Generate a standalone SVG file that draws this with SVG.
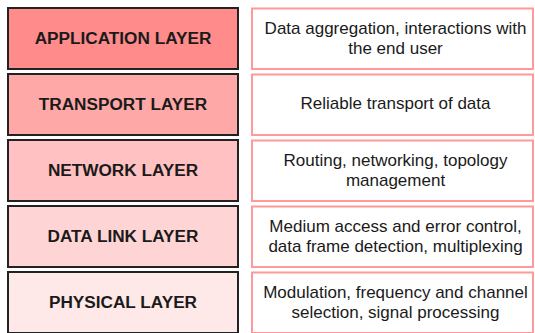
<svg xmlns="http://www.w3.org/2000/svg" width="535" height="333" viewBox="0 0 535 333">
<style>
.layer{stroke:#222;stroke-width:2}
.desc{fill:#fff;stroke:#ff9a9a;stroke-width:2}
.lt{font-family:"Liberation Sans",Arial,sans-serif;font-weight:bold;font-size:17.2px;fill:#1a1a1a;text-anchor:middle}
.dt{font-family:"Liberation Sans",Arial,sans-serif;font-size:17px;fill:#1a1a1a;text-anchor:middle}
</style>
<rect width="535" height="333" fill="#fff"/>
<g id="application">
<rect class="layer" x="8" y="8" width="230" height="61" fill="#ff8b8b"/>
<text class="lt" x="123" y="43.5">APPLICATION LAYER</text>
</g>
<g id="application-desc">
<rect class="desc" x="252" y="8.5" width="281" height="60.5"/>
<text class="dt" x="395.5" y="34">Data aggregation, interactions with</text>
<text class="dt" x="395.5" y="54">the end user</text>
</g>
<g id="transport">
<rect class="layer" x="8" y="74" width="230" height="61" fill="#ffa8a8"/>
<text class="lt" x="123" y="109.5">TRANSPORT LAYER</text>
</g>
<g id="transport-desc">
<rect class="desc" x="252" y="74.5" width="281" height="60.5"/>
<text class="dt" x="395.5" y="108.5">Reliable transport of data</text>
</g>
<g id="network">
<rect class="layer" x="8" y="140" width="230" height="61" fill="#ffc1c1"/>
<text class="lt" x="123" y="175.5">NETWORK LAYER</text>
</g>
<g id="network-desc">
<rect class="desc" x="252" y="140.5" width="281" height="60.5"/>
<text class="dt" x="395.5" y="165.5">Routing, networking, topology</text>
<text class="dt" x="395.5" y="185.5">management</text>
</g>
<g id="datalink">
<rect class="layer" x="8" y="206" width="230" height="61" fill="#ffd4d4"/>
<text class="lt" x="123" y="241.5">DATA LINK LAYER</text>
</g>
<g id="datalink-desc">
<rect class="desc" x="252" y="206.5" width="281" height="60.5"/>
<text class="dt" x="395.5" y="231.5">Medium access and error control,</text>
<text class="dt" x="395.5" y="251.5">data frame detection, multiplexing</text>
</g>
<g id="physical">
<rect class="layer" x="8" y="272" width="230" height="61" fill="#ffe8e8"/>
<text class="lt" x="123" y="307.5">PHYSICAL LAYER</text>
</g>
<g id="physical-desc">
<rect class="desc" x="252" y="272.5" width="281" height="60.5"/>
<text class="dt" x="395.5" y="297.5">Modulation, frequency and channel</text>
<text class="dt" x="395.5" y="317.5">selection, signal processing</text>
</g>
<g id="connectors"></g>
</svg>
